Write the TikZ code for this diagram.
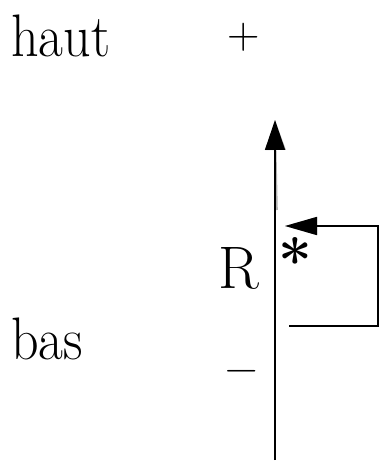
\documentclass[tikz,border=0pt]{standalone}
\usepackage{graphicx}
\usetikzlibrary{arrows.meta}
\begin{document}
\begin{tikzpicture}[x=1pt,y=-1pt,
  lbl/.style={inner sep=0pt, anchor=base west, font=\fontsize{60}{72}\selectfont},
  sgn/.style={inner sep=0pt, anchor=base west, font=\fontsize{45}{54}\selectfont},
  axisline/.style={line width=1.6pt, -{Triangle[length=30pt,width=20pt]}},
  loopline/.style={line width=1.5pt, -{Triangle[length=32pt,width=18pt]}},
  shade/.style={draw=black!30}]
\useasboundingbox (0,0) rectangle (385,470);
% named points
\coordinate (bot) at (275,460);
\coordinate (top) at (275,120);
\coordinate (ls) at (289,326);
\coordinate (lr) at (378,326);
\coordinate (ur) at (378,226);
\coordinate (lt) at (285,226);
% shadow (offset copy)
\begin{scope}[shift={(2,10)}]
  \draw[axisline, shade] (275,200) -- (top);
  \draw[loopline, shade] (ls) -- (lr) -- (ur) -- (lt);
\end{scope}
% main drawing
\draw[axisline] (bot) -- (top);
\draw[loopline] (ls) -- (lr) -- (ur) -- (lt);
% labels
\node[lbl] (haut) at (11,57) {\scalebox{0.9}[1]{haut}};
\node[lbl] (bas) at (11,359) {\scalebox{0.9}[1]{bas}};
\node[sgn] (plus) at (227.5,49) {+};
\node[sgn] (minus) at (225.5,382) {−};
\node[lbl] (R) at (218,288) {R};
\node[lbl, font=\fontsize{60}{72}\selectfont\bfseries] (star) at (278,282) {*};
\end{tikzpicture}
\end{document}
